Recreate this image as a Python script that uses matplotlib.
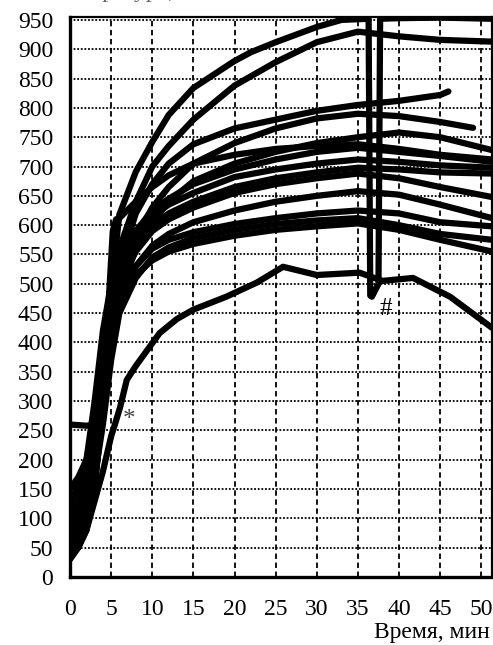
import matplotlib
matplotlib.use("Agg")
import matplotlib.pyplot as plt
import numpy as np

# ---- data ----
T = [0, 1, 2, 3, 4, 5, 6, 8, 10, 12, 15, 20, 25, 30, 35, 40, 45, 51.3]

t_A = [0, 1, 2, 3, 4, 5, 6, 8, 10, 12, 15, 20, 22, 25, 30, 33, 36.3, 36.5, 36.7, 37.5, 37.7, 40, 45, 51.3]
v_A = [40, 60, 100, 200, 350, 490, 618, 691, 742, 788, 834, 880, 895, 912, 938, 950, 952, 480, 478, 500, 952, 953, 954, 952]

v_B = [30, 50, 80, 150, 300, 450, 560, 640, 700, 735, 780, 838, 878, 912, 930, 922, 916, 913]

t_C = [0, 1, 2, 3, 4, 5, 6, 8, 10, 12, 15, 20, 25, 30, 35, 40, 45, 46]
v_C = [60, 80, 120, 200, 330, 450, 530, 620, 670, 705, 738, 765, 780, 795, 805, 812, 822, 828]

t_D = [0, 1, 2, 3, 4, 5, 6, 8, 10, 12, 15, 20, 25, 30, 35, 40, 45, 49]
v_D = [50, 70, 110, 180, 300, 420, 500, 580, 630, 665, 705, 740, 765, 782, 790, 786, 776, 766]

v_E = [45, 60, 90, 160, 280, 400, 480, 560, 605, 640, 675, 705, 725, 740, 750, 758, 750, 728]
v_F = [80, 120, 170, 250, 380, 470, 530, 590, 625, 645, 670, 695, 712, 725, 732, 725, 718, 708]
v_G = [100, 130, 190, 270, 400, 490, 540, 585, 615, 635, 655, 682, 695, 705, 712, 708, 702, 698]
v_H = [120, 160, 200, 300, 420, 500, 545, 580, 600, 620, 640, 665, 680, 690, 698, 695, 690, 688]
v_I = [60, 90, 150, 230, 350, 440, 500, 555, 590, 610, 630, 655, 670, 680, 688, 680, 665, 648]
v_J = [40, 60, 100, 180, 300, 400, 470, 530, 565, 585, 605, 625, 640, 650, 658, 652, 635, 612]
v_K = [150, 170, 200, 260, 350, 430, 480, 530, 560, 575, 588, 602, 612, 620, 625, 620, 605, 598]
v_M = [60, 90, 130, 170, 260, 370, 450, 510, 545, 562, 578, 592, 602, 608, 612, 600, 585, 575]
v_N = [90, 110, 140, 200, 320, 420, 480, 515, 540, 555, 568, 582, 592, 598, 603, 592, 575, 555]

t_P = [0, 2, 3, 3.8, 4.5, 5.2, 5.6, 6, 8, 10, 12, 15, 20, 25, 30, 35, 40, 45, 51.3]
v_P = [260, 258, 260, 265, 420, 590, 610, 612, 640, 665, 685, 705, 720, 730, 735, 738, 730, 720, 712]

t_L = [0, 1, 2, 3, 4, 5, 5.5, 6.1, 6.9, 8, 10.9, 13, 15, 19, 22.7, 25.9, 30, 35.2, 38, 41.7, 46.2, 51.3]
v_L = [35, 50, 80, 130, 180, 240, 262, 290, 336, 360, 416, 440, 456, 478, 502, 529, 515, 519, 505, 510, 478, 425]

x_ticks = [0, 5, 10, 15, 20, 25, 30, 35, 40, 45, 50]
y_ticks = list(range(0, 951, 50))
x_label = "Время, мин"
top_label = "Температура, °С"

# ---- figure ----
plt.rcParams['font.family'] = ['Liberation Serif', 'DejaVu Serif']
fig = plt.figure(figsize=(4.93, 6.45), dpi=100)
ax = fig.add_axes([70/493, 68/645, 422/493, 560/645])

series = [(t_A, v_A), (T, v_B), (t_C, v_C), (t_D, v_D), (T, v_E), (T, v_F),
          (T, v_G), (T, v_H), (T, v_I), (T, v_J), (T, v_K), (T, v_M), (T, v_N),
          (t_P, v_P), (t_L, v_L)]
for t, v in series:
    ax.plot(t, v, color='black', lw=4.5, solid_joinstyle='round', solid_capstyle='round', zorder=3)

ax.set_xlim(0, 51.3)
ax.set_ylim(0, 955)
ax.set_xticks(x_ticks)
ax.set_yticks(y_ticks)
ax.tick_params(axis='both', length=0, labelsize=17)
ax.tick_params(axis='y', pad=12)
ax.tick_params(axis='x', pad=16)

ax.yaxis.grid(True, color='black', linestyle=(0, (1.0, 1.0)), lw=1.3, zorder=1)
ax.xaxis.grid(True, color='black', linestyle=(0, (3.0, 2.0)), lw=1.3, zorder=1)
ax.set_axisbelow(True)

for side in ['left', 'bottom']:
    ax.spines[side].set_linewidth(2.4)
for side in ['top', 'right']:
    ax.spines[side].set_linewidth(1.6)

ax.text(6.4, 268, '*', fontsize=18, ha='left', va='center', color='#444444', zorder=4)
ax.text(37.6, 475, '#', fontsize=18, ha='left', va='top', color='black', zorder=4)

fig.text(490/493, 1 - 638/645, x_label, fontsize=17, ha='right', va='baseline')
fig.text(40/493, 1.0 + 3/645, top_label, fontsize=17, ha='left', va='baseline', color='#666666')

fig.savefig('out.png', dpi=100)
